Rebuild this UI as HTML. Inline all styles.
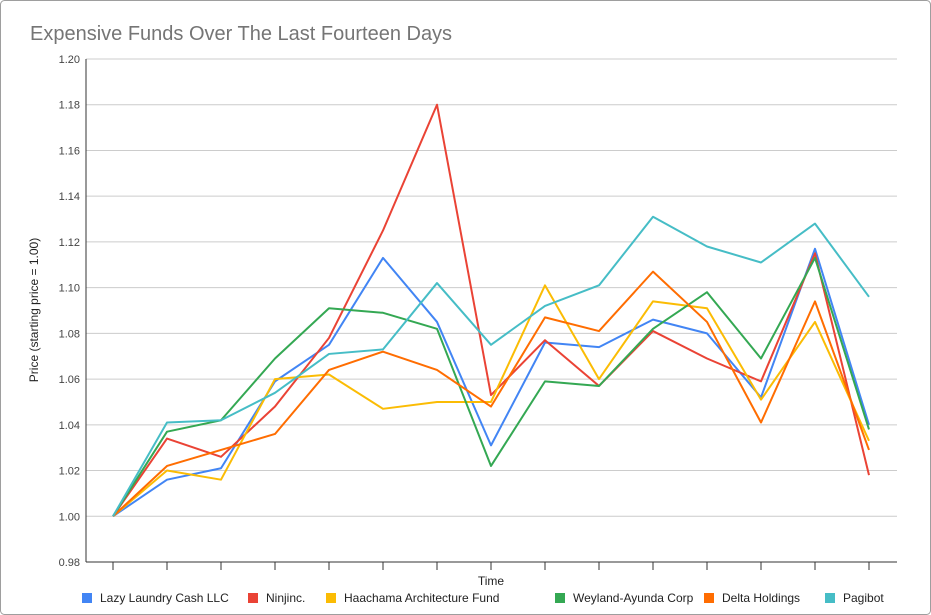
<!DOCTYPE html>
<html><head><meta charset="utf-8"><style>
body{margin:0;background:#fff;}
svg{display:block;font-family:"Liberation Sans",Arial,sans-serif;}
</style></head><body>
<svg id="chart" width="931" height="615">
<rect x="0.5" y="0.5" width="930" height="614" rx="4" fill="#fff" stroke="#9e9e9e"/>
<text x="30" y="40" font-size="20" fill="#757575">Expensive Funds Over The Last Fourteen Days</text>
<g id="grid"></g>
<g id="series"></g>
<text x="491" y="585" font-size="12" text-anchor="middle" fill="#222">Time</text>
<text transform="translate(38,310) rotate(-90)" font-size="12" text-anchor="middle" fill="#222">Price (starting price = 1.00)</text>
<g id="legend"></g>
</svg>
<script>
const days=[0,1,2,3,4,5,6,7,8,9,10,11,12,13,14];
const yTicks=[0.98,1.00,1.02,1.04,1.06,1.08,1.10,1.12,1.14,1.16,1.18,1.20];
const seriesNames=["Lazy Laundry Cash LLC","Ninjinc.","Haachama Architecture Fund","Weyland-Ayunda Corp","Delta Holdings","Pagibot"];
const lazy=[1.00,1.016,1.021,1.059,1.075,1.113,1.085,1.031,1.076,1.074,1.086,1.080,1.052,1.117,1.040];
const ninjinc=[1.00,1.034,1.026,1.048,1.078,1.125,1.180,1.053,1.077,1.057,1.081,1.069,1.059,1.115,1.018];
const haachama=[1.00,1.020,1.016,1.060,1.062,1.047,1.050,1.050,1.101,1.060,1.094,1.091,1.051,1.085,1.033];
const weyland=[1.00,1.037,1.042,1.069,1.091,1.089,1.082,1.022,1.059,1.057,1.082,1.098,1.069,1.113,1.038];
const delta=[1.00,1.022,1.029,1.036,1.064,1.072,1.064,1.048,1.087,1.081,1.107,1.085,1.041,1.094,1.029];
const pagibot=[1.00,1.041,1.042,1.054,1.071,1.073,1.102,1.075,1.092,1.101,1.131,1.118,1.111,1.128,1.096];
const allSeries=[lazy,ninjinc,haachama,weyland,delta,pagibot];
const colors=["#4285f4","#ea4335","#fbbc04","#34a853","#ff6d01","#46bdc6"];
const NS="http://www.w3.org/2000/svg";
const X0=86,X1=897,Y0=562,Y1=59;
function xs(i){return 113+i*54;}
function ys(v){return Y0-(v-0.98)/(0.22)*(Y0-Y1);}
function mk(t,a,p){const e=document.createElementNS(NS,t);for(const k in a)e.setAttribute(k,a[k]);p.appendChild(e);return e;}
const grid=document.getElementById('grid');
yTicks.forEach(t=>{
 const l=mk('line',{x1:X0,x2:X1,y1:ys(t),y2:ys(t),stroke:t===0.98?'#333':'#ccc','stroke-width':1},grid);
 
 
 const tx=mk('text',{x:X0-6,y:ys(t)+4,'font-size':11,'text-anchor':'end',fill:'#444'},grid);
 tx.textContent=t.toFixed(2);
 
 
});
mk('line',{x1:X0,x2:X0,y1:Y1,y2:Y0,stroke:'#333'},grid);
days.forEach(d=>{
 const tk=mk('line',{x1:xs(d),x2:xs(d),y1:Y0,y2:Y0+8,stroke:'#333'},grid);
 
 
});
const sg=document.getElementById('series');
allSeries.forEach((s,k)=>{
 const pts=s.map((v,i)=>xs(days[i])+','+ys(v)).join(' ');
 const pl=mk('polyline',{points:pts,fill:'none',stroke:colors[k],'stroke-width':2,'stroke-linejoin':'round'},sg);
 
 
});
const lg=document.getElementById('legend');
const legX=[82,248,326,555,704,825];
seriesNames.forEach((n,k)=>{
 const r=mk('rect',{x:legX[k],y:593,width:10,height:10,fill:colors[k]},lg);
 
 
 const t=mk('text',{x:legX[k]+18,y:602,'font-size':12,fill:'#222'},lg);
 t.textContent=n;
 
 
});
</script>
</body></html>
